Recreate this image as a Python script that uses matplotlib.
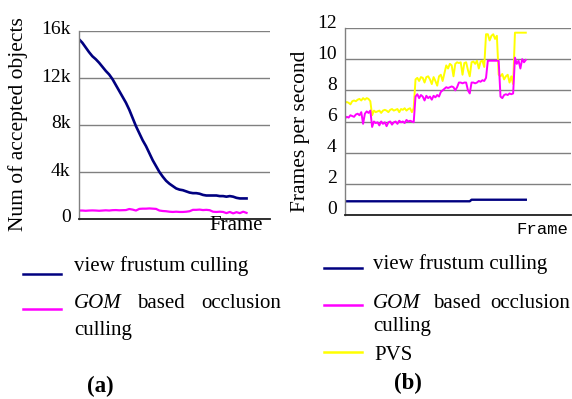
import matplotlib
matplotlib.use("Agg")
import matplotlib.pyplot as plt
from matplotlib.lines import Line2D
from matplotlib.transforms import ScaledTranslation

# ---------------- data ----------------
frames_a = list(range(0, 101, 2))
vfc_a = [15.3, 15.0, 14.6, 14.2, 13.85, 13.6, 13.3, 12.95, 12.6, 12.3,
         11.9, 11.4, 10.9, 10.4, 9.9, 9.3, 8.6, 7.9, 7.3, 6.7,
         6.2, 5.6, 5.0, 4.5, 4.0, 3.6, 3.25, 3.0, 2.8, 2.6,
         2.5, 2.45, 2.35, 2.25, 2.2, 2.2, 2.15, 2.05, 2.0, 2.0,
         2.0, 2.0, 1.95, 1.95, 1.9, 1.95, 1.9, 1.8, 1.75, 1.75, 1.75]
gom_a = [0.72, 0.72, 0.7, 0.72, 0.73, 0.72, 0.7, 0.72, 0.74, 0.72,
         0.75, 0.76, 0.74, 0.75, 0.76,
         0.85, 0.8, 0.72, 0.86, 0.88, 0.88, 0.9, 0.88, 0.86,
         0.72, 0.68, 0.66, 0.62,
         0.6, 0.62, 0.6, 0.6, 0.62, 0.66,
         0.78, 0.78, 0.8, 0.76, 0.78, 0.75,
         0.62, 0.6, 0.62, 0.6,
         0.5, 0.6, 0.48, 0.58, 0.5, 0.62, 0.52]
yticks_a = [0, 4, 8, 12, 16]
yticklabels_a = ["0", "4k", "8k", "12k", "16k"]

frames_b = list(range(0, 101))
pvs_b = ([7.2, 7.25, 7.2, 7.1, 7.3, 7.35, 7.3, 7.4, 7.45, 7.35, 7.5, 7.4, 7.5, 7.45, 7.3]
         + [6.4, 6.7, 6.6, 6.65, 6.7, 6.55, 6.7, 6.75, 6.7, 6.6, 6.75, 6.8, 6.7, 6.75, 6.8,
            6.6, 6.8, 6.75, 6.85, 6.7, 6.8, 6.85, 6.6, 6.85]
         + [8.7, 8.8, 8.6, 8.85, 8.8, 8.5, 8.85, 8.9, 8.7, 8.4, 8.85, 8.6, 8.3, 8.9, 9.0, 8.6, 9.1]
         + [9.6, 9.4, 9.7, 9.6, 8.9, 9.7, 9.8, 9.75]
         + [9.8, 9.0, 9.75, 9.8, 9.3, 8.9, 9.8, 9.85, 9.7, 9.9, 9.4, 9.85, 9.9, 9.5]
         + [11.6, 11.6, 11.2, 11.5, 11.6, 11.3, 11.5]
         + [9.0, 8.9, 9.05, 8.7, 8.9, 9.0, 8.5, 8.9, 8.4]
         + [11.7, 11.7, 11.7, 11.7, 11.7, 11.7, 11.7])
gom_b = ([6.2, 6.3, 6.25, 6.4, 6.35, 6.3, 6.45, 6.5, 6.4, 6.6, 5.85, 6.5, 6.65, 6.55, 6.7]
         + [5.65, 6.0, 5.9, 5.95, 5.75, 6.0, 5.85, 5.95, 5.7, 5.95, 6.0, 5.8, 5.95, 6.0, 5.85,
            6.05, 5.95, 6.0, 5.9, 6.1, 6.0, 6.05, 6.0, 5.95]
         + [7.6, 7.75, 7.5, 7.7, 7.6, 7.35, 7.65, 7.5, 7.6, 7.4, 7.65, 7.55, 7.7, 7.6, 7.9, 8.0, 8.1]
         + [8.2, 8.15, 8.2, 8.25, 8.2, 8.0, 8.2, 8.5]
         + [8.5, 8.45, 8.5, 8.5, 8.0, 7.8, 8.5, 8.5, 8.45, 8.5, 8.6, 8.55, 8.65, 8.6]
         + [8.8, 9.9, 9.9, 9.9, 9.9, 9.9, 9.9]
         + [9.9, 7.6, 7.5, 7.7, 7.75, 7.7, 7.8, 7.75, 7.8]
         + [10.1, 9.7, 9.9, 9.4, 10.0, 9.8, 9.95])
vfc_b_frames = [0, 69, 70, 100]
vfc_b = [0.88, 0.88, 0.98, 0.98]
yticks_b = [0, 2, 4, 6, 8, 10, 12]

NAVY = "#000080"
MAG = "#FF00FF"
YEL = "#FFFF00"
SERIF = ["Liberation Serif", "DejaVu Serif"]

fig = plt.figure(figsize=(5.72, 3.99), dpi=100)
W, H = 572.0, 399.0

def fx(px):
    return px / W

def fy(py):
    return 1 - py / H

def style_axes(ax, lift_px):
    for s in ["top", "right"]:
        ax.spines[s].set_visible(False)
    ax.spines["left"].set_color("#808080")
    ax.spines["bottom"].set_color("#202020")
    ax.spines["left"].set_linewidth(1.0)
    ax.spines["bottom"].set_linewidth(1.3)
    ax.tick_params(length=0, labelsize=14, pad=6)
    ax.set_xticks([])
    off = ScaledTranslation(0, lift_px / 100.0, fig.dpi_scale_trans)
    for lab in ax.get_yticklabels():
        lab.set_family(SERIF)
        lab.set_transform(lab.get_transform() + off)
    ax.grid(axis="y", color="#808080", linewidth=1.0)
    ax.set_axisbelow(True)

# ---------- chart (a) ----------
axa = fig.add_axes([fx(79), fy(219), fx(270 - 79), (219 - 31) / H])
axa.plot(frames_a, [v * 1000 for v in vfc_a], color=NAVY, lw=1.9)
axa.plot(frames_a, [v * 1000 for v in gom_a], color=MAG, lw=1.6)
axa.set_xlim(0, 114)
axa.set_ylim(0, 16000)
axa.set_yticks([t * 1000 for t in yticks_a])
axa.set_yticklabels(yticklabels_a)
style_axes(axa, 3)
axa.text(0.963, -0.035, "Frame", transform=axa.transAxes, ha="right", va="center",
         fontsize=15, family=SERIF)
fig.text(fx(18), fy(124), "Num of accepted objects", rotation=90, ha="center", va="center",
         fontsize=15.5, family=SERIF)

# ---------- chart (b) ----------
axb = fig.add_axes([fx(345), fy(215), fx(571 - 345), (215 - 28) / H])
axb.plot(frames_b, pvs_b, color=YEL, lw=1.4)
axb.plot(frames_b, gom_b, color=MAG, lw=1.4)
axb.plot(vfc_b_frames, vfc_b, color=NAVY, lw=1.7)
axb.set_xlim(0, 125)
axb.set_ylim(0, 12)
axb.set_yticks(yticks_b)
style_axes(axb, 7)
axb.text(0.987, -0.08, "Frame", transform=axb.transAxes, ha="right", va="center",
         fontsize=12.5, family=["Liberation Mono", "DejaVu Sans Mono"])
fig.text(fx(300), fy(131), "Frames per second", rotation=90, ha="center", va="center",
         fontsize=15.5, family=SERIF)

# ---------- legends ----------
LFS = 15

def leg_line(x0, x1, y, color):
    fig.add_artist(Line2D([fx(x0), fx(x1)], [fy(y), fy(y)], color=color, lw=1.8,
                          transform=fig.transFigure))

def txt(x, y, s, ha="left", **kw):
    fig.text(fx(x), fy(y), s, ha=ha, va="center", fontsize=LFS, family=SERIF, **kw)

# left legend
leg_line(23, 61, 274, NAVY)
txt(74, 266, "view frustum culling")
leg_line(23, 61, 309, MAG)
txt(74, 303, "GOM", style="italic")
txt(137, 303, "based")
txt(281, 303, "occlusion", ha="right")
txt(74, 330, "culling")

# right legend
leg_line(324, 362, 268, NAVY)
txt(373, 264, "view frustum culling")
leg_line(324, 362, 305, MAG)
txt(373, 303, "GOM", style="italic")
txt(433, 303, "based")
txt(570, 303, "occlusion", ha="right")
txt(373, 327, "culling")
leg_line(324, 362, 352, YEL)
txt(374, 355, "PVS")

fig.text(fx(100), fy(386), "(a)", ha="center", va="center", fontsize=16.5,
         family=SERIF, weight="bold")
fig.text(fx(408), fy(383), "(b)", ha="center", va="center", fontsize=16.5,
         family=SERIF, weight="bold")

fig.savefig("out.png", dpi=100)
